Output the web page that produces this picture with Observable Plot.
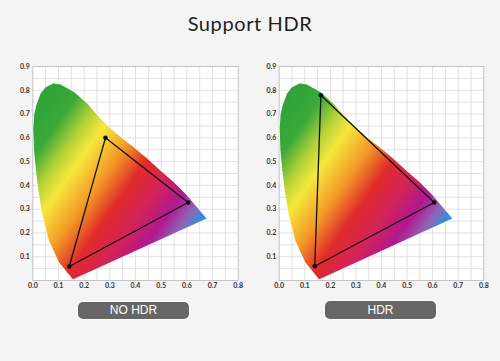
<!DOCTYPE html>
<html>
<head>
<meta charset="utf-8">
<script src="https://cdn.jsdelivr.net/npm/d3@7"></script>
<script src="https://cdn.jsdelivr.net/npm/@observablehq/plot@0.6"></script>
<style>
  html, body { margin: 0; padding: 0; }
  body { width: 500px; height: 361px; background: #f4f4f4; position: relative; overflow: hidden; }
  #title { position: absolute; left: 0; top: 13px; width: 500px; text-align: center;
           font-family: Lato, "Open Sans", sans-serif; font-size: 20px; line-height: 20px;
           letter-spacing: 0.6px; color: #1e1e1e; }
  .panel { position: absolute; top: 0; width: 250px; height: 300px; }
  .btn { position: absolute; background: #666; color: #fff; border-radius: 5px;
         font-family: "Liberation Sans", Arial, sans-serif; font-size: 12px; text-align: center;
         box-shadow: 0 0 1.5px 1px #fff; }
</style>
</head>
<body>
<div id="title">Support HDR</div>
<div id="left" class="panel" style="left:0px"></div>
<div id="right" class="panel" style="left:250px"></div>
<div class="btn" id="btnLeft" style="left:78px; top:302px; width:111px; height:17px; line-height:17px;"></div>
<div class="btn" id="btnRight" style="left:325px; top:301px; width:111px; height:18px; line-height:18px;"></div>
<script>
// ---- data ----
const titleText = "Support HDR";
const panelLabels = ["NO HDR", "HDR"];
const xTicks = [0.0, 0.1, 0.2, 0.3, 0.4, 0.5, 0.6, 0.7, 0.8];
const yTicks = [0.1, 0.2, 0.3, 0.4, 0.5, 0.6, 0.7, 0.8, 0.9];
const gridX = [0.05, 0.1, 0.15, 0.2, 0.25, 0.3, 0.35, 0.4, 0.45, 0.5, 0.55, 0.6, 0.65, 0.7, 0.75];
const gridY = [0.05, 0.1, 0.15, 0.2, 0.25, 0.3, 0.35, 0.4, 0.45, 0.5, 0.55, 0.6, 0.65, 0.7, 0.75, 0.8, 0.85];

// spectral locus outline (x, y chromaticity)
const locusX = [0.156, 0.100, 0.061, 0.035, 0.020, 0.010, 0.003, 0.000, 0.004, 0.012, 0.029, 0.049, 0.081, 0.108, 0.160, 0.212, 0.264, 0.303, 0.342, 0.393, 0.446, 0.497, 0.549, 0.601, 0.679];
const locusY = [0.003, 0.077, 0.169, 0.281, 0.380, 0.470, 0.550, 0.640, 0.700, 0.737, 0.786, 0.814, 0.831, 0.826, 0.795, 0.746, 0.682, 0.640, 0.605, 0.562, 0.514, 0.464, 0.415, 0.359, 0.260];

// gamut triangles (green, red, blue vertices)
const noHdrX = [0.283, 0.605, 0.142];
const noHdrY = [0.600, 0.328, 0.059];
const hdrX = [0.163, 0.606, 0.139];
const hdrY = [0.779, 0.328, 0.060];

// ---- helpers ----
const gradientStops = [
  [0.00, "#2aa23a"], [0.17, "#3aa938"], [0.27, "#b4d238"], [0.35, "#f6e83c"],
  [0.48, "#f39b27"], [0.60, "#e02b2a"], [0.71, "#d42357"], [0.82, "#b1188f"],
  [0.90, "#8d66b6"], [0.97, "#1b98e2"], [1.00, "#1b98e2"]
];

function gradientDefs(id) {
  return (index, scales) => {
    const defs = d3.create("svg:defs");
    const g = defs.append("linearGradient")
      .attr("id", id)
      .attr("gradientUnits", "userSpaceOnUse")
      .attr("x1", scales.x(0.129)).attr("y1", scales.y(0.988))
      .attr("x2", scales.x(0.831)).attr("y2", scales.y(0.455));
    for (const [o, c] of gradientStops) g.append("stop").attr("offset", o).attr("stop-color", c);
    return defs.node();
  };
}

const locus = locusX.map((x, i) => ({x, y: locusY[i]}));
const locusClosed = [...locus, locus[0]];

function makeChart(id, triX, triY, margins) {
  const tri = triX.map((x, i) => ({x, y: triY[i]}));
  const triClosed = [...tri, tri[0]];
  const axisStyle = {fontSize: 7, fontWeight: 700, fill: "#333", fontFamily: "Lato, sans-serif"};
  return Plot.plot({
    width: 250,
    height: 300,
    marginLeft: margins.left,
    marginRight: margins.right,
    marginTop: 66,
    marginBottom: 20,
    style: {background: "transparent", overflow: "visible"},
    x: {domain: [0, 0.8]},
    y: {domain: [0, 0.9]},
    marks: [
      gradientDefs(id),
      Plot.frame({fill: "white", stroke: null}),
      Plot.ruleX(gridX, {stroke: "#d9d9d9", strokeWidth: 0.8}),
      Plot.ruleY(gridY, {stroke: "#d9d9d9", strokeWidth: 0.8}),
      Plot.frame({stroke: "#c4c4c4", strokeWidth: 1}),
      Plot.line(locusClosed, {x: "x", y: "y", fill: `url(#${id})`, stroke: "#ffffff", strokeWidth: 1, strokeOpacity: 0.8, curve: "linear"}),
      Plot.line(triClosed, {x: "x", y: "y", stroke: "#111", strokeWidth: 1.3, curve: "linear"}),
      Plot.dot(tri, {x: "x", y: "y", r: 2.3, fill: "#111", stroke: null}),
      Plot.axisX(xTicks, {tickSize: 0, tickPadding: 3, tickFormat: d => d.toFixed(1), label: null, ...axisStyle}),
      Plot.axisY(yTicks, {tickSize: 0, tickPadding: 3, tickFormat: d => d.toFixed(1), label: null, ...axisStyle})
    ]
  });
}

document.getElementById("title").textContent = titleText;
document.getElementById("left").append(makeChart("grad-left", noHdrX, noHdrY, {left: 32.3, right: 12.3}));
document.getElementById("right").append(makeChart("grad-right", hdrX, hdrY, {left: 28.7, right: 16.7}));
document.getElementById("btnLeft").textContent = panelLabels[0];
document.getElementById("btnRight").textContent = panelLabels[1];
</script>
</body>
</html>
